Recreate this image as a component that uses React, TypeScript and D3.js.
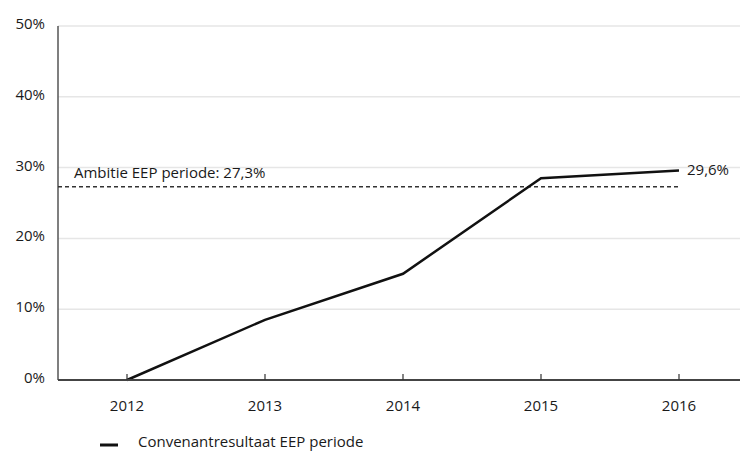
import * as d3 from 'd3'

const YEARS = ['2012', '2013', '2014', '2015', '2016']
const RESULT = [0, 8.5, 15.0, 28.5, 29.6]
const AMBITION = 27.3
const Y_TICKS = [0, 10, 20, 30, 40, 50]
const LEGEND_LABEL = 'Convenantresultaat EEP periode'

const W = 740
const H = 453
const M = { top: 26, right: -8, bottom: 73, left: 58 }
const FONT = "'Open Sans', sans-serif"

export default function App() {
  const innerW = W - M.left - M.right
  const innerH = H - M.top - M.bottom

  const x = d3.scaleBand().domain(YEARS).range([0, innerW]).padding(0)
  const y = d3.scaleLinear().domain([0, 50]).range([innerH, 0])
  const cx = (yr: string) => (x(yr) ?? 0) + x.bandwidth() / 2

  const line = d3.line<number>()
    .x((_, i) => cx(YEARS[i]))
    .y(d => y(d))

  const last = RESULT[RESULT.length - 1]
  const fmt = (v: number) => v.toFixed(1).replace('.', ',') + '%'

  return (
    <svg width={W} height={H} style={{ position: 'fixed', left: 0, top: 0 }} fontFamily={FONT}>
      <rect width={W} height={H} fill="#fff" />
      <g transform={`translate(${M.left},${M.top})`}>
        {/* grid */}
        {Y_TICKS.filter(t => t > 0).map(t => (
          <line key={t} x1={0} x2={innerW} y1={y(t)} y2={y(t)} stroke="#e6e6e6" strokeWidth={1.5} />
        ))}
        {/* y labels */}
        {Y_TICKS.map(t => (
          <text key={t} x={-13} y={y(t)} dy="0.2em" textAnchor="end" fontSize={15} fill="#1a1a1a">
            {t}%
          </text>
        ))}
        {/* y axis */}
        <line x1={0} x2={0} y1={0} y2={innerH} stroke="#555" strokeWidth={1.5} />

        {/* ambition */}
        <line x1={0} x2={cx(YEARS[YEARS.length - 1])} y1={y(AMBITION)} y2={y(AMBITION)}
          stroke="#333" strokeWidth={1.4} strokeDasharray="4,3" />
        <text x={16} y={y(AMBITION) - 9} fontSize={15} fill="#1a1a1a">
          Ambitie EEP periode: {fmt(AMBITION)}
        </text>

        {/* result line */}
        <path d={line(RESULT) ?? ''} fill="none" stroke="#111" strokeWidth={2.5} />
        <text x={cx(YEARS[YEARS.length - 1]) + 8} y={y(last)} dy="0.3em" fontSize={15} fill="#1a1a1a">
          {fmt(last)}
        </text>

        {/* x axis */}
        <line x1={0} x2={innerW} y1={innerH} y2={innerH} stroke="#444" strokeWidth={2} />
        {YEARS.map(yr => (
          <g key={yr}>
            <line x1={cx(yr)} x2={cx(yr)} y1={innerH} y2={innerH - 6} stroke="#333" strokeWidth={1.2} />
            <text x={cx(yr)} y={innerH + 31} textAnchor="middle" fontSize={15} fill="#1a1a1a">{yr}</text>
          </g>
        ))}
      </g>

      {/* legend */}
      <line x1={100} x2={118} y1={445} y2={445} stroke="#111" strokeWidth={3} />
      <text x={138} y={447} fontSize={15} fill="#1a1a1a">{LEGEND_LABEL}</text>
    </svg>
  )
}
